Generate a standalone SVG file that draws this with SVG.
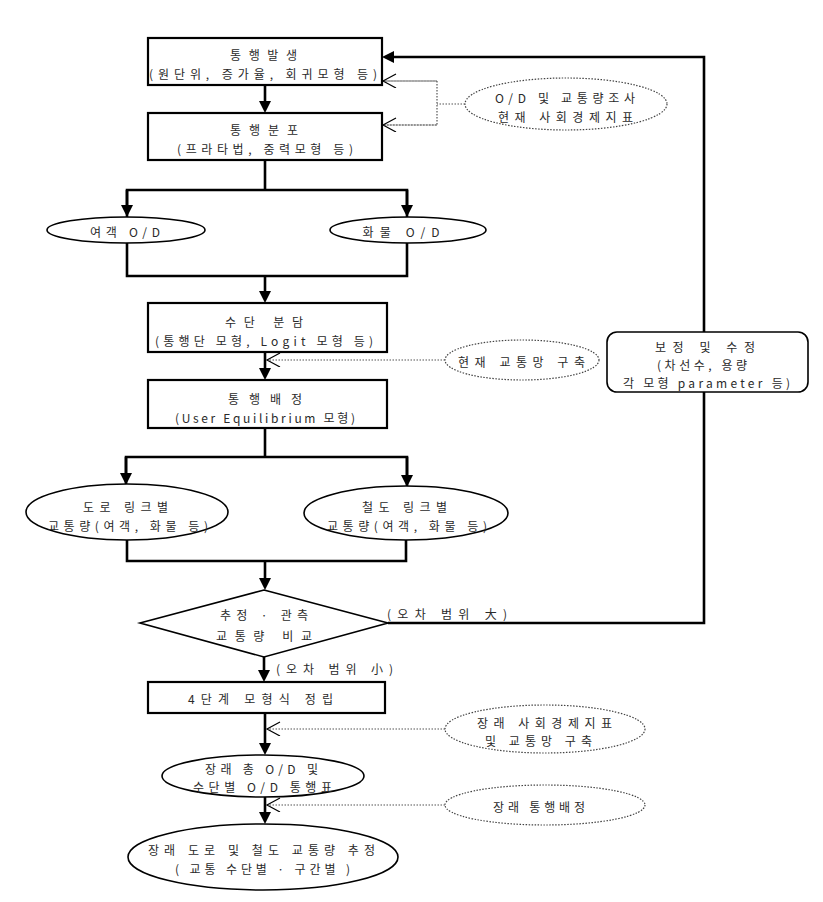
<svg xmlns="http://www.w3.org/2000/svg" width="823" height="902" viewBox="0 0 823 902">
<style>
.box{fill:#fff;stroke:#000;stroke-width:2.2}
.ell{fill:#fff;stroke:#000;stroke-width:1.6}
.dell{fill:#fff;stroke:#444;stroke-width:1.2;stroke-dasharray:1.5 1.5}
.c{fill:none;stroke:#000;stroke-width:2.6}
.d{fill:none;stroke:#555;stroke-width:1.2;stroke-dasharray:1.5 1.5}
text{font-family:"Noto Sans CJK KR","Noto Sans",sans-serif;font-size:12px;fill:#2a2a2a;text-anchor:middle;dominant-baseline:central}
</style>
<defs>
<marker id="fa" markerUnits="userSpaceOnUse" markerWidth="14" markerHeight="14" refX="6" refY="6" orient="auto">
<path d="M0,0 L12,6 L0,12 z" fill="#000"/>
</marker>
<marker id="oa" markerUnits="userSpaceOnUse" markerWidth="16" markerHeight="16" refX="14" refY="7" orient="auto">
<path d="M1,0 L14,7 L1,14" fill="none" stroke="#000" stroke-width="1.2"/>
</marker>
</defs>
<g id="connectors">
<line class="c" x1="265" y1="85" x2="265" y2="107" marker-end="url(#fa)"/>
<polyline class="c" points="265,160 265,190"/>
<polyline class="c" points="127,217 127,190 407,190 407,217"/>
<line class="c" x1="127" y1="190" x2="127" y2="211" marker-end="url(#fa)"/>
<line class="c" x1="407" y1="190" x2="407" y2="211" marker-end="url(#fa)"/>
<polyline class="c" points="127,243 127,276 407,276 407,243"/>
<line class="c" x1="265" y1="276" x2="265" y2="297" marker-end="url(#fa)"/>
<line class="c" x1="265" y1="352" x2="265" y2="374" marker-end="url(#fa)"/>
<polyline class="c" points="265,428 265,457"/>
<polyline class="c" points="126,485 126,457 407,457 407,487"/>
<line class="c" x1="126" y1="457" x2="126" y2="479" marker-end="url(#fa)"/>
<line class="c" x1="407" y1="457" x2="407" y2="481" marker-end="url(#fa)"/>
<polyline class="c" points="127,540 127,561 406,561 406,540"/>
<line class="c" x1="265" y1="561" x2="265" y2="584" marker-end="url(#fa)"/>
<polyline class="c" points="388,623 704,623 704,57 390,57"/>
<line class="c" x1="390" y1="57" x2="388" y2="57" marker-end="url(#fa)"/>
<line class="c" x1="264" y1="657" x2="264" y2="676" marker-end="url(#fa)"/>
<line class="c" x1="265" y1="713" x2="265" y2="749" marker-end="url(#fa)"/>
<line class="c" x1="265" y1="797" x2="265" y2="818" marker-end="url(#fa)"/>
<polyline class="d" points="465,104 437,104"/>
<polyline class="d" points="383,81 437,81 437,125 383,125"/>
<line class="d" x1="437" y1="81" x2="383" y2="81" marker-end="url(#oa)"/>
<line class="d" x1="437" y1="125" x2="383" y2="125" marker-end="url(#oa)"/>
<line class="d" x1="445" y1="360" x2="267" y2="360" marker-end="url(#oa)"/>
<line class="d" x1="445" y1="729" x2="267" y2="729" marker-end="url(#oa)"/>
<line class="d" x1="445" y1="805" x2="267" y2="805" marker-end="url(#oa)"/>
</g>
<g id="n-trip-gen">
<rect class="box" x="148" y="38" width="234" height="47"/>
<text x="263.5" y="54" textLength="67" lengthAdjust="spacing">통행발생</text>
<text x="263" y="73" textLength="228" lengthAdjust="spacing">(원단위, 증가율, 회귀모형 등)</text>
</g>
<g id="n-trip-dist">
<rect class="box" x="148" y="113" width="234" height="47"/>
<text x="264" y="129" textLength="68" lengthAdjust="spacing">통행분포</text>
<text x="265" y="148" textLength="176" lengthAdjust="spacing">(프라타법, 중력모형 등)</text>
</g>
<g id="n-survey">
<ellipse class="dell" cx="566" cy="104" rx="101" ry="26"/>
<text x="565" y="97" textLength="140" lengthAdjust="spacing">O/D 및 교통량조사</text>
<text x="565.5" y="116" textLength="135" lengthAdjust="spacing">현재 사회경제지표</text>
</g>
<g id="n-passenger-od">
<ellipse class="ell" cx="126" cy="230" rx="79" ry="13"/>
<text x="125" y="231" textLength="70" lengthAdjust="spacing">여객 O/D</text>
</g>
<g id="n-freight-od">
<ellipse class="ell" cx="408" cy="230" rx="78" ry="13"/>
<text x="401" y="231" textLength="77" lengthAdjust="spacing">화물 O/D</text>
</g>
<g id="n-mode-split">
<rect class="box" x="148" y="303" width="239" height="49"/>
<text x="264" y="321" textLength="78" lengthAdjust="spacing">수단 분담</text>
<text x="264" y="340" textLength="218" lengthAdjust="spacing">(통행단 모형, Logit 모형 등)</text>
</g>
<g id="n-network">
<ellipse class="dell" cx="522" cy="360" rx="77" ry="20"/>
<text x="521.5" y="361" textLength="127" lengthAdjust="spacing">현재 교통망 구축</text>
</g>
<g id="n-assign">
<rect class="box" x="148" y="380" width="239" height="48"/>
<text x="265" y="398" textLength="74" lengthAdjust="spacing">통행배정</text>
<text x="265" y="417" textLength="180" lengthAdjust="spacing">(User Equilibrium 모형)</text>
</g>
<g id="n-calib">
<rect class="box" x="607" y="332" width="201" height="60" rx="10" ry="10" style="stroke-width:1.6"/>
<text x="705" y="346" textLength="100" lengthAdjust="spacing">보정 및 수정</text>
<text x="702" y="364" textLength="90" lengthAdjust="spacing">(차선수, 용량</text>
<text x="706.5" y="382" textLength="167" lengthAdjust="spacing">각 모형 parameter 등)</text>
</g>
<g id="n-road">
<ellipse class="ell" cx="127" cy="512" rx="101" ry="28"/>
<text x="125.5" y="506" textLength="85" lengthAdjust="spacing">도로 링크별</text>
<text x="128" y="525" textLength="160" lengthAdjust="spacing">교통량(여객, 화물 등)</text>
</g>
<g id="n-rail">
<ellipse class="ell" cx="406" cy="513" rx="102" ry="27"/>
<text x="404.5" y="506" textLength="85" lengthAdjust="spacing">철도 링크별</text>
<text x="407" y="525" textLength="160" lengthAdjust="spacing">교통량(여객, 화물 등)</text>
</g>
<g id="n-compare">
<polygon class="ell" points="264,590 388,623 264,657 140,623" style="stroke-width:1.6"/>
<text x="264" y="614" textLength="88" lengthAdjust="spacing">추정 · 관측</text>
<text x="264" y="635" textLength="96" lengthAdjust="spacing">교통량 비교</text>
</g>
<g id="labels">
<text x="447" y="613" textLength="120" lengthAdjust="spacing">(오차 범위 大)</text>
<text x="334.5" y="668" textLength="117" lengthAdjust="spacing">(오차 범위 小)</text>
</g>
<g id="n-model">
<rect class="box" x="148" y="682" width="237" height="31"/>
<text x="260.5" y="698" textLength="145" lengthAdjust="spacing">4단계 모형식 정립</text>
</g>
<g id="n-future-socio">
<ellipse class="dell" cx="545" cy="729" rx="100" ry="24"/>
<text x="544.5" y="722" textLength="135" lengthAdjust="spacing">장래 사회경제지표</text>
<text x="538.5" y="740" textLength="107" lengthAdjust="spacing">및 교통망 구축</text>
</g>
<g id="n-future-od">
<ellipse class="ell" cx="263" cy="776" rx="101" ry="21"/>
<text x="261.5" y="768" textLength="113" lengthAdjust="spacing">장래 총 O/D 및</text>
<text x="262.5" y="786" textLength="139" lengthAdjust="spacing">수단별 O/D 통행표</text>
</g>
<g id="n-future-assign">
<ellipse class="dell" cx="545" cy="805" rx="100" ry="20"/>
<text x="539" y="806" textLength="92" lengthAdjust="spacing">장래 통행배정</text>
</g>
<g id="n-future-volume">
<ellipse class="ell" cx="263" cy="857" rx="135" ry="33"/>
<text x="261.5" y="849" textLength="227" lengthAdjust="spacing">장래 도로 및 철도 교통량 추정</text>
<text x="262.5" y="868" textLength="175" lengthAdjust="spacing">( 교통 수단별 · 구간별 )</text>
</g>
</svg>
